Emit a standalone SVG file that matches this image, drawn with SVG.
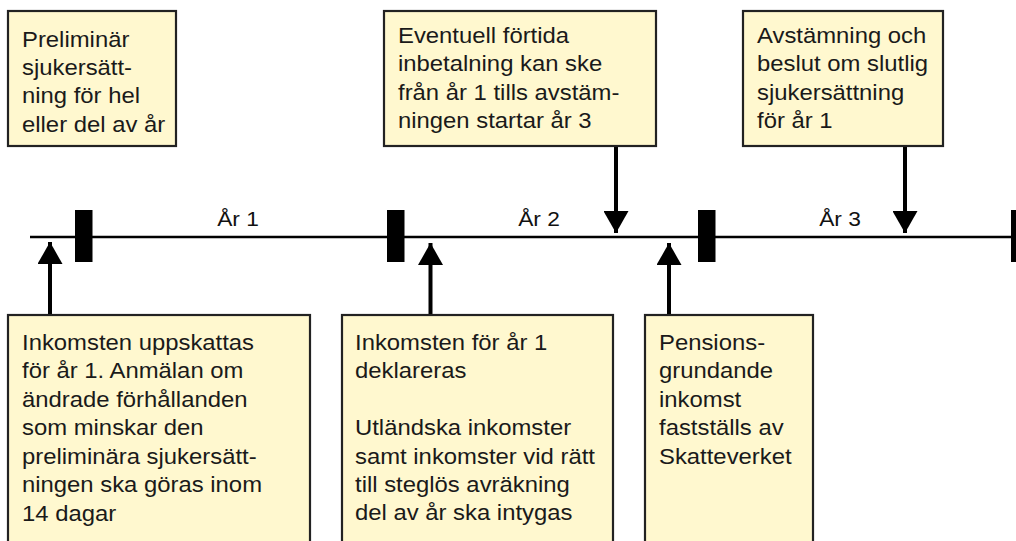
<svg xmlns="http://www.w3.org/2000/svg" width="1016" height="541" viewBox="0 0 1016 541">
<style>
.box{fill:#FFF8CF;stroke:#222;stroke-width:2.2}
.t{font-family:"Liberation Sans",Arial,sans-serif;font-size:21.5px;fill:#1a1a1a}
.yr{font-family:"Liberation Sans",Arial,sans-serif;font-size:20.5px;fill:#111;text-anchor:middle}
.conn{stroke:#000;stroke-width:4;fill:none}
.tick{fill:#000}
</style>
<defs>
<marker id="ah" viewBox="0 0 22 25" refX="22" refY="12.5" markerWidth="22" markerHeight="25" markerUnits="userSpaceOnUse" orient="auto">
<path d="M0,0 L22,12.5 L0,25 z" fill="#000"/>
</marker>
</defs>
<rect width="1016" height="541" fill="#fff"/>

<g id="timeline">
<line x1="30" y1="237" x2="1016" y2="237" stroke="#000" stroke-width="2.5"/>
<rect class="tick" x="75" y="210" width="17.5" height="52"/>
<rect class="tick" x="387" y="210" width="17.5" height="52"/>
<rect class="tick" x="698" y="210" width="17.5" height="52"/>
<rect class="tick" x="1011" y="210" width="17.5" height="52"/>
<text class="yr" transform="translate(238,226) scale(1.11,1)">År 1</text>
<text class="yr" transform="translate(539,226) scale(1.11,1)">År 2</text>
<text class="yr" transform="translate(840,226) scale(1.11,1)">År 3</text>
</g>

<g id="connectors">
<path class="conn" d="M50,314 L50,242" marker-end="url(#ah)"/>
<path class="conn" d="M430.5,314 L430.5,243" marker-end="url(#ah)"/>
<path class="conn" d="M669,315 L669,243" marker-end="url(#ah)"/>
<path class="conn" d="M616,147 L616,233" marker-end="url(#ah)"/>
<path class="conn" d="M905,147 L905,233" marker-end="url(#ah)"/>
</g>

<g id="n1">
<rect class="box" x="8" y="11" width="168" height="135"/>
<text class="t" transform="translate(22,46.7) scale(1.11,1)"><tspan x="0" y="0">Preliminär</tspan><tspan x="0" dy="28.4">sjukersätt-</tspan><tspan x="0" dy="28.4">ning för hel</tspan><tspan x="0" dy="28.4">eller del av år</tspan></text>
</g>

<g id="n2">
<rect class="box" x="384" y="11" width="272" height="135"/>
<text class="t" transform="translate(398,42.7) scale(1.11,1)"><tspan x="0" y="0">Eventuell förtida</tspan><tspan x="0" dy="28.6">inbetalning kan ske</tspan><tspan x="0" dy="28.6">från år 1 tills avstäm-</tspan><tspan x="0" dy="28.6">ningen startar år 3</tspan></text>
</g>

<g id="n3">
<rect class="box" x="743" y="11" width="200" height="135"/>
<text class="t" transform="translate(757,42.7) scale(1.11,1)"><tspan x="0" y="0">Avstämning och</tspan><tspan x="0" dy="28.6">beslut om slutlig</tspan><tspan x="0" dy="28.6">sjukersättning</tspan><tspan x="0" dy="28.6">för år 1</tspan></text>
</g>

<g id="n4">
<rect class="box" x="8" y="315" width="302" height="240"/>
<text class="t" transform="translate(22,349.5) scale(1.11,1)"><tspan x="0" y="0">Inkomsten uppskattas</tspan><tspan x="0" dy="28.6">för år 1. Anmälan om</tspan><tspan x="0" dy="28.6">ändrade förhållanden</tspan><tspan x="0" dy="28.6">som minskar den</tspan><tspan x="0" dy="28.6">preliminära sjukersätt-</tspan><tspan x="0" dy="28.6">ningen ska göras inom</tspan><tspan x="0" dy="28.6">14 dagar</tspan></text>
</g>

<g id="n5">
<rect class="box" x="342" y="315" width="271" height="240"/>
<text class="t" transform="translate(355,350) scale(1.11,1)"><tspan x="0" y="0">Inkomsten för år 1</tspan><tspan x="0" dy="28.4">deklareras</tspan><tspan x="0" dy="56.8">Utländska inkomster</tspan><tspan x="0" dy="28.4">samt inkomster vid rätt</tspan><tspan x="0" dy="28.4">till steglös avräkning</tspan><tspan x="0" dy="28.4">del av år ska intygas</tspan></text>
</g>

<g id="n6">
<rect class="box" x="645" y="315" width="168" height="240"/>
<text class="t" transform="translate(659,350) scale(1.11,1)"><tspan x="0" y="0">Pensions-</tspan><tspan x="0" dy="28.4">grundande</tspan><tspan x="0" dy="28.4">inkomst</tspan><tspan x="0" dy="28.4">fastställs av</tspan><tspan x="0" dy="28.4">Skatteverket</tspan></text>
</g>
</svg>
